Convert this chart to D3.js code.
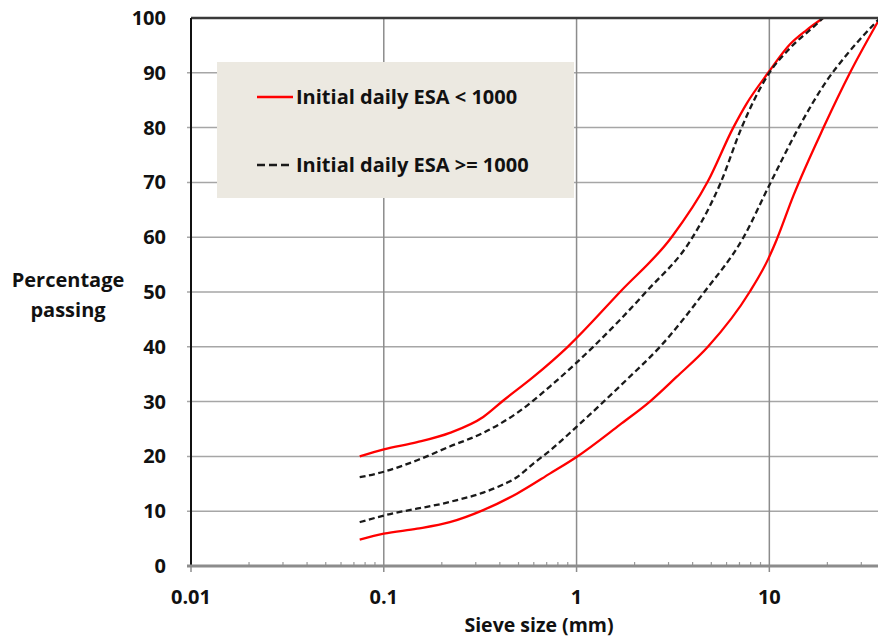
<!DOCTYPE html>
<html lang="en">
<head>
<meta charset="UTF-8">
<title>Grading envelope</title>
<script src="https://cdnjs.cloudflare.com/ajax/libs/d3/7.8.5/d3.min.js"></script>
<style>
    body { margin: 0; background: #fff; }
    svg { display: block; }
    text { font-family: "Open Sans", "Liberation Sans", Arial, sans-serif; font-weight: 700; fill: #111; font-size: 20px; }
</style>
</head>
<body>
<svg width="878" height="639"></svg>
<script>
    // values (sieve size mm, % passing)
    const redUpperSize = [0.075, 0.1, 0.149, 0.22, 0.328, 0.417, 0.597, 0.9, 1.68, 3.11, 4.8, 6.5, 7.6, 9.86, 12.8, 15.6, 19];
    const redUpperPass = [20, 21.3, 22.6, 24.3, 27.2, 30.2, 34.5, 40, 50, 60, 70.2, 80, 84.3, 90, 95.2, 97.8, 100];

    const redLowerSize = [0.075, 0.1, 0.149, 0.22, 0.328, 0.49, 0.73, 1.0, 1.68, 2.4, 3.3, 4.8, 7.9, 9.86, 10.9, 13.3, 19.1, 26.2, 37.5];
    const redLowerPass = [4.8, 5.9, 6.8, 8, 10.2, 13.2, 16.9, 19.9, 25.8, 30, 34.5, 40, 50, 56, 59.5, 67.5, 80, 90, 100];

    const blackUpperSize = [0.075, 0.1, 0.149, 0.22, 0.328, 0.49, 0.73, 1.0, 1.22, 2.29, 4.0, 5.6, 7.18, 10, 12.8, 17.6, 19];
    const blackUpperPass = [16.2, 17.2, 19.3, 21.8, 24.3, 27.9, 32.8, 37.1, 40, 50, 60, 70, 80, 90, 94.5, 98.9, 100];

    const blackLowerSize = [0.075, 0.1, 0.22, 0.328, 0.4, 0.49, 0.597, 0.73, 1.0, 1.82, 2.71, 4.6, 7.35, 10, 14.2, 19.8, 25.2, 37.5];
    const blackLowerPass = [8, 9.2, 11.7, 13.4, 14.6, 16.2, 18.7, 21.1, 25.4, 34, 40, 50, 60, 69.5, 80, 88.5, 93.3, 100];

    const xTickValues = [0.01, 0.1, 1, 10];
    const xTickLabels = ["0.01", "0.1", "1", "10"];
    const yTickValues = [0, 10, 20, 30, 40, 50, 60, 70, 80, 90, 100];

    const legendLabels = ["Initial daily ESA < 1000", "Initial daily ESA >= 1000"];

    const svg = d3.select("svg");
    const plotLeft = 191, plotTop = 18, plotBottom = 566, plotRight = 880;

    const x = d3.scaleLog().domain([0.01, 37.5]).range([plotLeft, plotRight]);
    const y = d3.scaleLinear().domain([0, 100]).range([plotBottom, plotTop]);

    // horizontal grid
    svg.append("g").selectAll("line")
        .data(yTickValues.filter(d => d > 0 && d < 100))
        .enter().append("line")
        .attr("x1", plotLeft - 4).attr("x2", plotRight)
        .attr("y1", d => y(d)).attr("y2", d => y(d))
        .attr("stroke", "#a6a6a6").attr("stroke-width", 1.5);

    // vertical grid
    svg.append("g").selectAll("line")
        .data(xTickValues.slice(1))
        .enter().append("line")
        .attr("x1", d => x(d)).attr("x2", d => x(d))
        .attr("y1", plotTop).attr("y2", plotBottom + 6)
        .attr("stroke", "#8c8c8c").attr("stroke-width", 1.5);

    // minor ticks on the x axis
    const minor = [];
    [0.01, 0.1, 1, 10].forEach(dec => {
        for (let k = 2; k <= 9; k++) {
            if (dec * k <= 37.5) minor.push(dec * k);
        }
    });
    svg.append("g").selectAll("line")
        .data(minor)
        .enter().append("line")
        .attr("x1", d => x(d)).attr("x2", d => x(d))
        .attr("y1", plotBottom - 4).attr("y2", plotBottom)
        .attr("stroke", "#999").attr("stroke-width", 1.2);

    // legend box
    svg.append("rect")
        .attr("x", 217).attr("y", 62).attr("width", 357).attr("height", 136)
        .attr("fill", "#ece9e1");

    // curves
    const line = d3.line()
        .x(d => x(d[0]))
        .y(d => y(d[1]))
        .curve(d3.curveMonotoneX);

    const series = [
        { size: redUpperSize, pass: redUpperPass, color: "#ff0000", dash: null },
        { size: redLowerSize, pass: redLowerPass, color: "#ff0000", dash: null },
        { size: blackUpperSize, pass: blackUpperPass, color: "#1a1a1a", dash: "6,3.5" },
        { size: blackLowerSize, pass: blackLowerPass, color: "#1a1a1a", dash: "6,3.5" }
    ];

    series.forEach(s => {
        svg.append("path")
            .datum(s.size.map((v, i) => [v, s.pass[i]]))
            .attr("d", line)
            .attr("fill", "none")
            .attr("stroke", s.color)
            .attr("stroke-width", 2.3)
            .attr("stroke-dasharray", s.dash);
    });

    // frame
    svg.append("line")
        .attr("x1", plotLeft).attr("x2", plotRight).attr("y1", plotTop).attr("y2", plotTop)
        .attr("stroke", "#3a3a3a").attr("stroke-width", 2.5);
    svg.append("line")
        .attr("x1", plotLeft).attr("x2", plotLeft).attr("y1", plotTop).attr("y2", plotBottom)
        .attr("stroke", "#111").attr("stroke-width", 2);
    svg.append("line")
        .attr("x1", plotLeft - 4).attr("x2", plotRight).attr("y1", plotBottom).attr("y2", plotBottom)
        .attr("stroke", "#8c8c8c").attr("stroke-width", 3);
    svg.append("line")
        .attr("x1", plotLeft).attr("x2", plotLeft).attr("y1", plotBottom).attr("y2", plotBottom + 6)
        .attr("stroke", "#8c8c8c").attr("stroke-width", 1.5);

    // y tick labels
    svg.append("g").selectAll("text")
        .data(yTickValues)
        .enter().append("text")
        .attr("x", 166).attr("y", d => y(d))
        .attr("dy", "0.35em")
        .attr("text-anchor", "end")
        .text(d => d);

    // x tick labels
    svg.append("g").selectAll("text")
        .data(xTickValues)
        .enter().append("text")
        .attr("x", d => x(d)).attr("y", 604)
        .attr("text-anchor", "middle")
        .text((d, i) => xTickLabels[i]);

    // axis titles
    svg.append("text")
        .attr("x", 539).attr("y", 632)
        .attr("text-anchor", "middle")
        .style("font-size", "19.5px")
        .text("Sieve size (mm)");

    const yTitle = svg.append("text")
        .attr("x", 68).attr("y", 287)
        .attr("text-anchor", "middle");
    yTitle.append("tspan").attr("x", 68).text("Percentage");
    yTitle.append("tspan").attr("x", 68).attr("dy", 30).text("passing");

    // legend entries
    svg.append("line")
        .attr("x1", 257).attr("x2", 293).attr("y1", 97).attr("y2", 97)
        .attr("stroke", "#ff0000").attr("stroke-width", 2.5);
    svg.append("line")
        .attr("x1", 257).attr("x2", 289).attr("y1", 165).attr("y2", 165)
        .attr("stroke", "#1a1a1a").attr("stroke-width", 2.5)
        .attr("stroke-dasharray", "8,4");

    svg.append("g").selectAll("text")
        .data(legendLabels)
        .enter().append("text")
        .attr("x", 296).attr("y", (d, i) => 97 + i * 68)
        .attr("dy", "0.35em")
        .text(d => d);
</script>
</body>
</html>
